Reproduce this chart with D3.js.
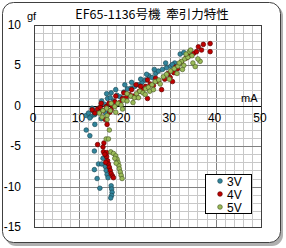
<!DOCTYPE html>
<html>
<head>
<meta charset="utf-8">
<script src="https://cdn.jsdelivr.net/npm/d3@7"></script>
<style>
  body { margin: 0; background: #fff; }
  text { font-family: "Liberation Sans", "Noto Sans CJK JP", sans-serif; fill: #000; }
</style>
</head>
<body>
<div id="chart"></div>
<script>
let width = 286;
let height = 248;

// data: [mA, gf]
const series3V = [
  [11.5,-1.2],[12.0,-0.9],[12.6,-1.3],[13.0,-0.6],[13.5,-1.0],[14.2,-0.3],[14.9,0.6],[15.5,0.2],
  [16.2,0.9],[16.8,1.0],[17.5,0.6],[18.3,1.3],[19.0,1.1],[19.8,1.7],[20.6,2.1],[21.4,2.2],
  [22.2,2.4],[23.0,2.6],[23.8,2.9],[24.5,3.2],[25.3,3.7],[26.0,3.5],[26.8,4.0],[27.4,4.3],
  [28.3,4.5],[29.2,4.7],[30.1,4.9],[31.0,5.3],[32.2,6.4],[33.0,6.6],
  [17.0,1.6],[18.0,2.0],[20.0,2.6],[21.5,2.9],[23.5,3.3],[24.8,3.9],[26.5,4.5],[29.0,5.3],
  [30.5,5.1],[12.8,-0.3],[16.0,1.5],
  [12.3,-1.5],[13.3,-1.1],[13.4,-2.3],[11.5,-3.0],[12.3,-3.7],[13.3,-5.6],[14.2,-7.2],[14.9,-7.2],
  [13.3,-7.9],[13.9,-9.0],[14.5,-10.2],[15.7,-7.5],[15.9,-8.0],[16.1,-8.5],[16.3,-8.9],[15.2,-6.5],
  [17.0,-9.9],[17.1,-10.3],[17.2,-10.7],[17.1,-11.1],[16.9,-11.4],[14.8,-1.6],[15.8,-0.9]
];
const series4V = [
  [13.4,-0.9],[14.0,-0.4],[14.6,-0.2],[15.2,-0.6],[15.9,-0.1],[16.5,0.3],[17.2,0.0],[17.8,0.5],
  [18.9,0.4],[19.5,0.9],[20.3,1.0],[21.0,1.4],[21.8,1.2],[22.6,1.1],[23.2,1.8],[24.0,2.0],
  [24.6,2.4],[25.0,0.9],[25.6,2.7],[26.3,2.5],[27.4,3.0],[28.1,2.0],[28.8,3.3],[30.0,3.5],
  [30.8,4.1],[31.6,4.6],[32.5,5.4],[33.5,5.9],[34.5,6.3],[35.2,6.5],[35.8,6.7],[36.2,7.3],
  [36.9,6.9],[37.3,7.6],[38.8,7.7],[38.8,6.7],[30.5,3.0],
  [18.0,1.2],[19.8,1.6],[21.5,2.0],[22.5,2.6],[23.5,2.4],[25.0,3.2],[26.8,3.4],[29.5,4.0],
  [31.2,4.8],[34.0,6.1],[12.8,-0.5],[14.8,0.3],[17.0,-0.5],
  [14.5,-0.8],[16.7,-0.8],[15.7,-1.7],[16.1,-2.3],[14.0,-4.8],[15.4,-4.6],[15.2,-5.1],[15.3,-5.7],
  [16.0,-5.8],[16.0,-6.3],[16.2,-6.8],[16.4,-7.2],[16.6,-7.6],[16.8,-8.0],[17.0,-8.4],[17.3,-8.7],
  [17.5,-8.9],[15.8,-7.0],[15.6,-6.0]
];
const series5V = [
  [14.4,-0.9],[15.2,-0.6],[16.0,-0.3],[16.8,-0.6],[17.8,-0.1],[18.5,0.3],[19.2,0.1],[19.7,0.7],
  [20.5,0.6],[21.3,1.2],[22.1,1.0],[22.6,1.5],[23.3,1.8],[24.0,1.6],[24.6,2.1],[25.2,2.3],
  [26.0,2.6],[26.7,3.0],[27.5,3.2],[28.5,3.6],[29.2,3.9],[30.1,4.3],[30.9,4.6],[31.7,4.9],
  [32.5,5.5],[32.7,4.5],[33.2,5.8],[33.9,6.0],[34.2,6.7],[34.8,6.2],[35.5,4.85],[36.6,5.5],
  [36.1,5.8],[33.5,6.4],
  [15.0,-1.4],[17.0,0.3],[18.0,-0.8],[19.5,-0.4],[20.5,1.5],[21.8,0.4],[23.0,1.0],[24.5,1.4],
  [25.5,1.8],[26.3,2.0],[27.8,2.7],[29.8,3.3],[31.5,4.0],[32.0,5.3],[33.0,5.0],[34.5,6.9],[35.0,5.3],
  [16.1,-1.2],[16.1,-1.7],[16.6,-3.0],[15.9,-4.1],[16.4,-4.1],[16.9,-5.7],[17.5,-5.9],[18.0,-6.2],
  [18.3,-6.6],[18.5,-7.0],[18.7,-7.4],[18.8,-7.8],[19.0,-8.2],[19.2,-8.6],[19.4,-9.0],[17.8,-6.5],
  [18.1,-7.1]
];
const seriesNames = ["3V", "4V", "5V"];
const xTicks = [0, 10, 20, 30, 40, 50];
const yTicks = [10, 5, 0, -5, -10, -15];

const fills = ["#31859c", "#c00000", "#9bbb59"];
const strokes = ["#1f4e5a", "#600000", "#4f6228"];

let svg = d3.select("#chart").append("svg")
  .attr("width", width)
  .attr("height", height);

// outer frame with shadow
svg.append("rect")
  .attr("x", 5).attr("y", 5).attr("width", 278).attr("height", 241)
  .attr("rx", 11).attr("fill", "#b0b0b0");
svg.append("rect")
  .attr("x", 2.5).attr("y", 2.5).attr("width", 278).attr("height", 240)
  .attr("rx", 11).attr("fill", "#fff").attr("stroke", "#404040");

let x = d3.scaleLinear().domain([0, 50]).range([34, 261]);
let y = d3.scaleLinear().domain([-15, 10]).range([227, 25]);

// grid
let grid = svg.append("g");
grid.selectAll(".vx")
  .data(d3.range(0, 51, 2))
  .enter().append("line")
  .attr("x1", d => Math.round(x(d)) + 0.5).attr("x2", d => Math.round(x(d)) + 0.5)
  .attr("y1", y(10)).attr("y2", y(-15))
  .attr("stroke", d => d % 10 === 0 ? "#808080" : "#c8c8c8");
grid.selectAll(".hy")
  .data(d3.range(-15, 11, 1))
  .enter().append("line")
  .attr("y1", d => Math.round(y(d)) + 0.5).attr("y2", d => Math.round(y(d)) + 0.5)
  .attr("x1", x(0)).attr("x2", x(50))
  .attr("stroke", d => d % 5 === 0 ? "#808080" : "#c8c8c8");

svg.append("rect")
  .attr("x", Math.round(x(0)) + 0.5).attr("y", Math.round(y(10)) + 0.5)
  .attr("width", Math.round(x(50)) - Math.round(x(0)))
  .attr("height", Math.round(y(-15)) - Math.round(y(10)))
  .attr("fill", "none").attr("stroke", "#404040");

// x axis through zero
svg.append("line")
  .attr("x1", x(0)).attr("x2", x(50))
  .attr("y1", Math.round(y(0)) + 0.5).attr("y2", Math.round(y(0)) + 0.5)
  .attr("stroke", "#000");

// tick labels
svg.append("g").selectAll("text")
  .data(xTicks).enter().append("text")
  .attr("x", d => x(d) - 1).attr("y", y(0) + 16)
  .attr("text-anchor", "middle")
  .attr("font-size", 12)
  .text(d => d);
svg.append("g").selectAll("text")
  .data(yTicks).enter().append("text")
  .attr("x", 21).attr("y", d => y(d) + 4)
  .attr("text-anchor", "end")
  .attr("font-size", 12)
  .text(d => d);

// points
let allSeries = [series3V, series4V, series5V];
allSeries.forEach(function (s, i) {
  svg.append("g").selectAll("circle")
    .data(s).enter().append("circle")
    .attr("cx", d => x(d[0]))
    .attr("cy", d => y(d[1]))
    .attr("r", 2.3)
    .attr("fill", fills[i])
    .attr("stroke", strokes[i])
    .attr("stroke-width", 0.7);
});

// titles
svg.append("text")
  .attr("x", 152).attr("y", 19)
  .attr("text-anchor", "middle")
  .attr("font-size", 12.5)
  .style("font-family", "'Noto Sans CJK JP', sans-serif")
  .style("white-space", "pre")
  .text("EF65-1136号機  牽引力特性");
svg.append("text").attr("x", 27).attr("y", 20).attr("font-size", 11).text("gf");
svg.append("text").attr("x", 241).attr("y", 102).attr("font-size", 11).text("mA");

// legend
let legend = svg.append("g");
legend.append("rect")
  .attr("x", 205.5).attr("y", 174.5).attr("width", 46).attr("height", 39)
  .attr("fill", "#fff").attr("stroke", "#000");
seriesNames.forEach(function (name, i) {
  legend.append("circle")
    .attr("cx", 220).attr("cy", 181 + i * 13).attr("r", 2.3)
    .attr("fill", fills[i]).attr("stroke", strokes[i]).attr("stroke-width", 0.7);
  legend.append("text")
    .attr("x", 227).attr("y", 185.5 + i * 13)
    .attr("font-size", 12)
    .text(name);
});
</script>
</body>
</html>
